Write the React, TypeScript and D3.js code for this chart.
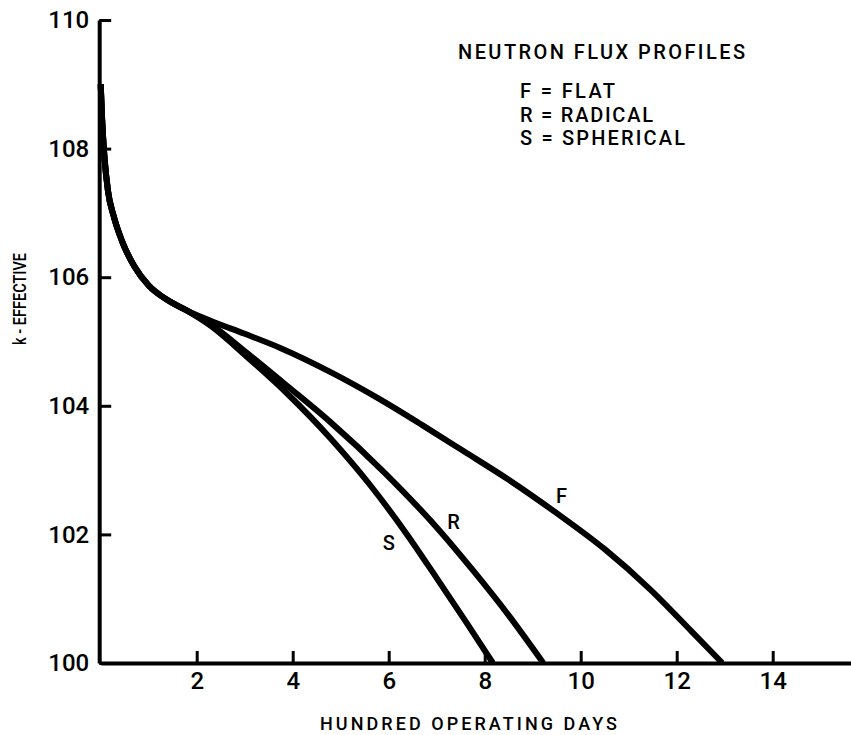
import React, { useEffect, useRef } from "react";
import * as d3 from "d3";

const width = 851,
  height = 735;

// shared early part of the curves (all profiles coincide here)
const startDays = [0, 0.03, 0.08, 0.15, 0.27, 0.45, 0.7, 1.0, 1.4, 1.8];
const startK = [109.0, 108.45, 107.85, 107.35, 106.95, 106.55, 106.17, 105.87, 105.64, 105.48];

// F = flat
const flatDays = [2.3, 3.0, 3.74, 4.8, 5.82, 6.7, 7.55, 8.5, 9.5, 10.5, 11.44, 12.3, 12.95];
const flatK = [105.32, 105.12, 104.9, 104.52, 104.1, 103.7, 103.3, 102.85, 102.33, 101.77, 101.15, 100.5, 100];

// R = radical
const radicalDays = [2.3, 3.05, 3.9, 4.78, 5.9, 7.07, 7.8, 8.5, 9.22];
const radicalK = [105.26, 104.82, 104.3, 103.75, 102.97, 102.05, 101.4, 100.74, 100];

// S = spherical
const sphericalDays = [2.3, 3.05, 3.9, 4.78, 5.6, 6.38, 7.0, 7.6, 8.17];
const sphericalK = [105.24, 104.76, 104.18, 103.5, 102.78, 102.0, 101.32, 100.65, 100];

const xTicks = [2, 4, 6, 8, 10, 12, 14];
const yTicks = [100, 102, 104, 106, 108, 110];

const legendTitle = "NEUTRON FLUX PROFILES";
const legendLines = ["F = FLAT", "R = RADICAL", "S = SPHERICAL"];

const font = "Roboto, 'Liberation Sans', sans-serif";

function App() {
  const ref = useRef<SVGSVGElement>(null);

  useEffect(() => {
    const svg = d3.select(ref.current);
    svg.selectAll("*").remove();

    const x = d3.scaleLinear().domain([0, 15.65]).range([100.7, 851.9]);
    const y = d3.scaleLinear().domain([100, 110]).range([663, 20]);

    const build = (days: number[], k: number[]) =>
      startDays.map((d, i) => [d, startK[i]]).concat(days.map((d, i) => [d, k[i]]));

    const series = [
      { name: "F", pts: build(flatDays, flatK), lx: 9.6, ly: 102.6 },
      { name: "R", pts: build(radicalDays, radicalK), lx: 7.35, ly: 102.2 },
      { name: "S", pts: build(sphericalDays, sphericalK), lx: 6.0, ly: 101.87 },
    ];

    const line = d3
      .line<number[]>()
      .x(d => x(d[0]))
      .y(d => y(d[1]))
      .curve(d3.curveMonotoneX);

    // curves
    svg
      .append("g")
      .selectAll("path")
      .data(series)
      .join("path")
      .attr("d", d => line(d.pts))
      .attr("fill", "none")
      .attr("stroke", "#000")
      .attr("stroke-width", 6)
      .attr("stroke-linejoin", "round");

    // y axis, ticks pointing inward
    const yAxis = svg
      .append("g")
      .attr("transform", `translate(${x(0) - 1.5},0)`)
      .call(d3.axisLeft(y).tickValues(yTicks).tickSize(-12).tickSizeOuter(0).tickPadding(10).tickFormat(d3.format("d")));
    yAxis.select(".domain").attr("stroke-width", 4);
    yAxis.selectAll(".tick line").attr("stroke-width", 3);
    yAxis.selectAll(".tick text").attr("font-size", 24).attr("font-family", font).attr("font-weight", 500).attr("fill", "#000");

    // x axis, ticks pointing inward
    const xAxis = svg
      .append("g")
      .attr("transform", `translate(0,${y(100)})`)
      .call(d3.axisBottom(x).tickValues(xTicks).tickSize(-12).tickSizeOuter(0).tickPadding(9));
    xAxis.select(".domain").attr("stroke-width", 4);
    xAxis.selectAll(".tick line").attr("stroke-width", 3);
    xAxis.selectAll(".tick text").attr("font-size", 24).attr("font-family", font).attr("font-weight", 500).attr("fill", "#000");

    // curve labels
    svg
      .append("g")
      .selectAll("text")
      .data(series)
      .join("text")
      .attr("x", d => x(d.lx))
      .attr("y", d => y(d.ly))
      .attr("dy", "0.35em")
      .attr("text-anchor", "middle")
      .attr("font-family", font)
      .attr("font-weight", 500)
      .attr("font-size", 20)
      .text(d => d.name);

    // legend
    const legend = svg.append("g").attr("font-family", font).attr("font-weight", 500).attr("font-size", 20);
    legend
      .append("text")
      .attr("x", 458)
      .attr("y", 59)
      .attr("textLength", 287)
      .attr("lengthAdjust", "spacing")
      .text(legendTitle);
    const lineWidths = [95, 133, 165];
    legend
      .selectAll("text.item")
      .data(legendLines)
      .join("text")
      .attr("class", "item")
      .attr("x", 520)
      .attr("y", (d, i) => 98 + i * 23.5)
      .attr("textLength", (d, i) => lineWidths[i])
      .attr("lengthAdjust", "spacing")
      .text(d => d);

    // axis titles
    svg
      .append("text")
      .attr("x", 320)
      .attr("y", 730)
      .attr("textLength", 297)
      .attr("lengthAdjust", "spacing")
      .attr("font-family", font)
      .attr("font-weight", 500)
      .attr("font-size", 18)
      .text("HUNDRED OPERATING DAYS");

    svg
      .append("text")
      .attr("transform", "translate(26,345) rotate(-90)")
      .attr("textLength", 92)
      .attr("lengthAdjust", "spacingAndGlyphs")
      .attr("font-family", font)
      .attr("font-weight", 500)
      .attr("font-size", 19)
      .text("k - EFFECTIVE");
  }, []);

  return (
    <svg
      ref={ref}
      width={width}
      height={height}
      style={{ position: "absolute", left: 0, top: 0, background: "#fff" }}
    />
  );
}

export default App;
